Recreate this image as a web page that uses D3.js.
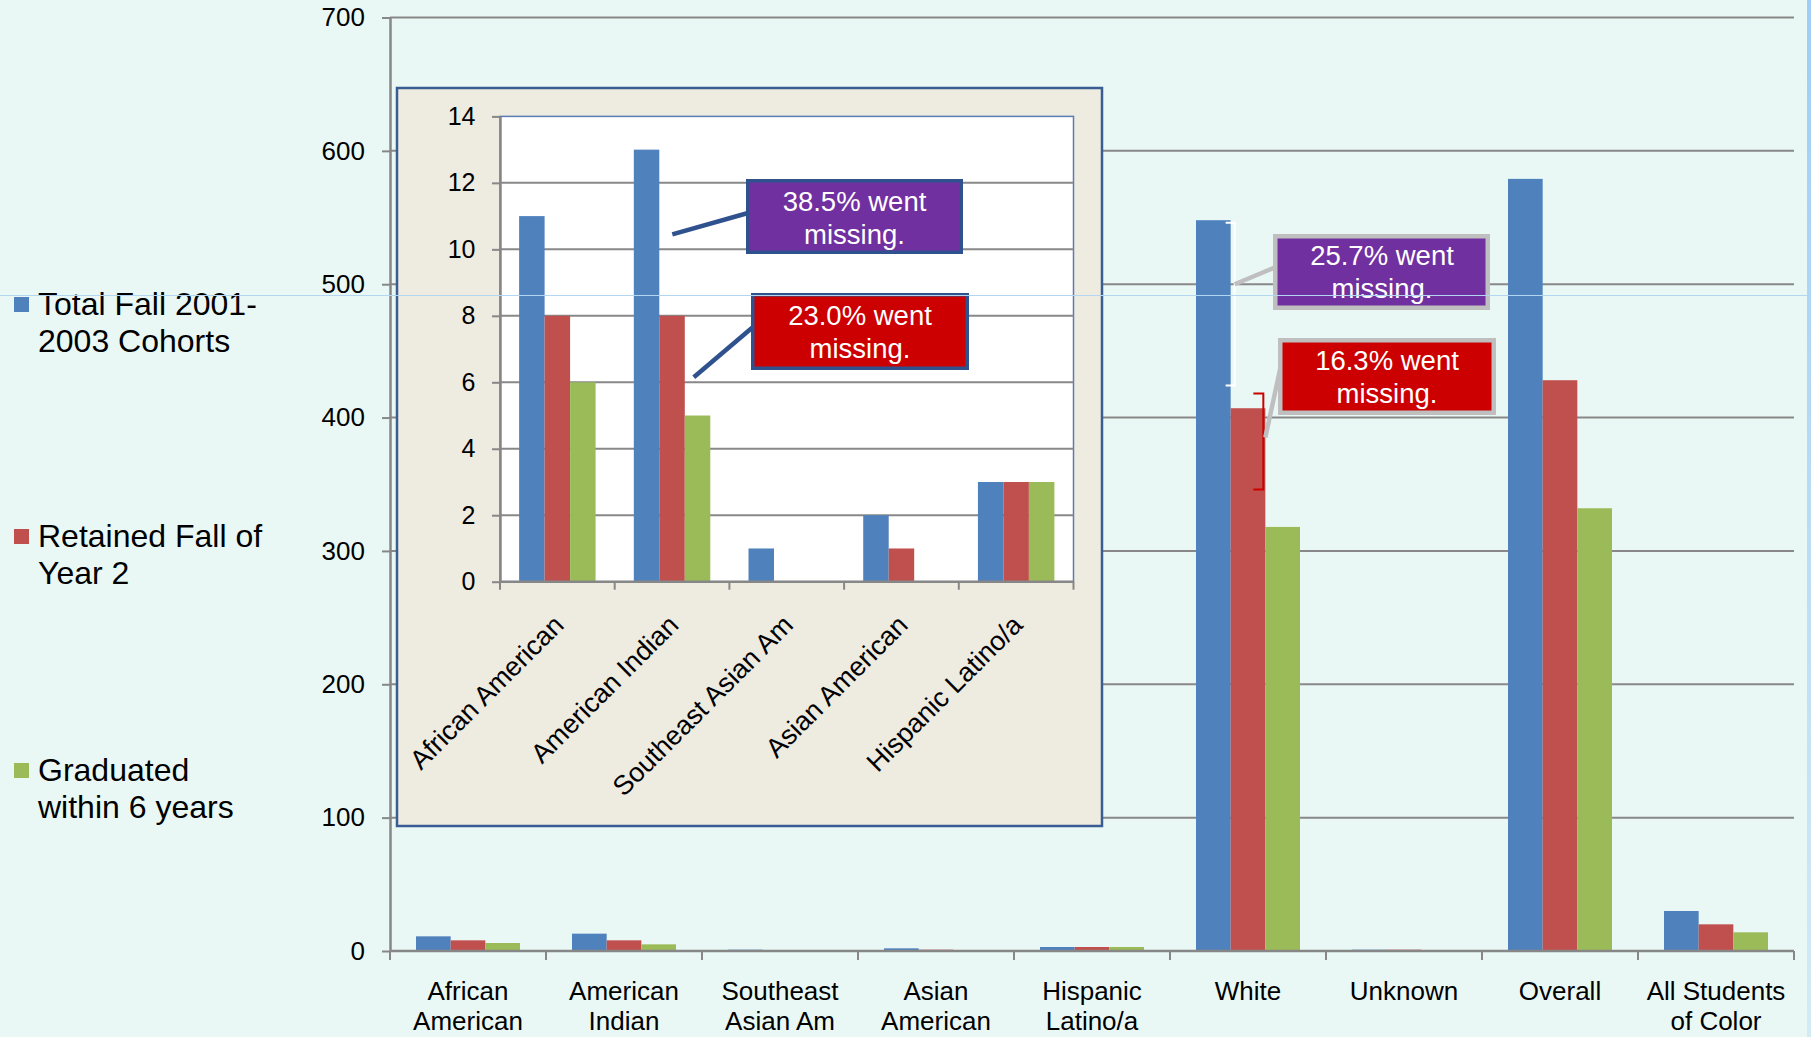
<!DOCTYPE html>
<html>
<head>
<meta charset="utf-8">
<script src="https://cdn.jsdelivr.net/npm/d3@7"></script>
<style>
	body { margin: 0; background: #eaf8f5; }
	svg text { font-family: "Liberation Sans", Arial, sans-serif; }
</style>
</head>
<body>
<svg id="vis" width="1811" height="1037"></svg>
<script>
// chart values
const categories = ["African American", "American Indian", "Southeast Asian Am", "Asian American", "Hispanic Latino/a", "White", "Unknown", "Overall", "All Students of Color"];
const categoryLines = [["African", "American"], ["American", "Indian"], ["Southeast", "Asian Am"], ["Asian", "American"], ["Hispanic", "Latino/a"], ["White"], ["Unknown"], ["Overall"], ["All Students", "of Color"]];
const seriesNames = ["Total Fall 2001-2003 Cohorts", "Retained Fall of Year 2", "Graduated within 6 years"];
const legendLines = [["Total Fall 2001-", "2003 Cohorts"], ["Retained Fall of", "Year 2"], ["Graduated", "within 6 years"]];
const totalFall = [11, 13, 1, 2, 3, 548, 1, 579, 30];
const retained = [8, 8, 0, 1, 3, 407, 1, 428, 20];
const graduated = [6, 5, 0, 0, 3, 318, 0, 332, 14];
const yTicks = [0, 100, 200, 300, 400, 500, 600, 700];

// inset zooms on the first five groups
const insetCount = 5;
const insetTicks = [0, 2, 4, 6, 8, 10, 12, 14];

// callout texts
const insetNotes = [["38.5% went", "missing."], ["23.0% went", "missing."]];
const mainNotes = [["25.7% went", "missing."], ["16.3% went", "missing."]];

const colors = ["#4f81bd", "#c0504d", "#9bbb59"];
const series = [totalFall, retained, graduated];
const gridColor = "#888888";

const svg = d3.select("svg#vis");

// ---------- main chart ----------
const x = d3.scaleBand().domain(categories).range([390, 1794]);
const y = d3.scaleLinear().domain([0, 700]).range([951, 17.5]);
const bw = x.bandwidth();

const g = {
	grid: svg.append("g"),
	bars: svg.append("g"),
	axes: svg.append("g"),
	inset: svg.append("g"),
	notes: svg.append("g"),
	legend: svg.append("g"),
	extra: svg.append("g")
};

g.grid.selectAll("line")
	.data(yTicks.slice(1))
	.enter().append("line")
	.attr("x1", 390).attr("x2", 1794)
	.attr("y1", d => y(d)).attr("y2", d => y(d))
	.attr("stroke", gridColor).attr("stroke-width", 2);

function drawBars(sel, xs, ys, count) {
	const w = xs.bandwidth();
	series.forEach(function(vals, s) {
		sel.append("g").selectAll("rect")
			.data(vals.slice(0, count).map((v, i) => ({v: v, c: xs.domain()[i]})).filter(d => d.v > 0))
			.enter().append("rect")
			.attr("x", d => xs(d.c) + w / 6 + s * w * 2 / 9)
			.attr("width", w * 2 / 9)
			.attr("y", d => ys(d.v))
			.attr("height", d => ys(0) - ys(d.v))
			.attr("fill", colors[s]);
	});
}
drawBars(g.bars, x, y, categories.length);

// y axis
const yAxis = g.axes.append("g")
	.attr("transform", "translate(390,0)")
	.call(d3.axisLeft(y).tickValues(yTicks).tickSize(8).tickSizeOuter(0).tickPadding(17));
yAxis.select(".domain").attr("stroke", "#878787").attr("stroke-width", 2.5);
yAxis.selectAll(".tick line").attr("stroke", "#878787").attr("stroke-width", 2);
yAxis.selectAll(".tick text").attr("font-size", 26).attr("fill", "#000")
	.attr("font-family", "Liberation Sans, Arial, sans-serif");

// x axis
g.axes.append("line")
	.attr("x1", 390).attr("x2", 1794).attr("y1", y(0)).attr("y2", y(0))
	.attr("stroke", "#878787").attr("stroke-width", 2.5);
g.axes.append("g").selectAll("line")
	.data(categories.map(c => x(c)).concat([x.range()[1]]))
	.enter().append("line")
	.attr("x1", d => d).attr("x2", d => d)
	.attr("y1", y(0)).attr("y2", y(0) + 9)
	.attr("stroke", "#878787").attr("stroke-width", 2);

const xl = g.axes.append("g").selectAll("text")
	.data(categories)
	.enter().append("text")
	.attr("text-anchor", "middle")
	.attr("font-size", 26)
	.attr("fill", "#000");
xl.each(function(c, i) {
	const t = d3.select(this);
	categoryLines[i].forEach(function(line, k) {
		t.append("tspan").attr("x", x(c) + bw / 2).attr("y", 1000 + k * 30).text(line);
	});
});

// ---------- inset ----------
const xi = d3.scaleBand().domain(categories.slice(0, insetCount)).range([500, 1073.5]);
const yi = d3.scaleLinear().domain([0, 14]).range([581.7, 116.4]);
const bwi = xi.bandwidth();

g.inset.append("rect")
	.attr("x", 397).attr("y", 88).attr("width", 705).attr("height", 738)
	.attr("fill", "#eeebe0").attr("stroke", "#3a5c94").attr("stroke-width", 2.5);
g.inset.append("rect")
	.attr("x", 500).attr("y", yi(14)).attr("width", 573.5).attr("height", yi(0) - yi(14))
	.attr("fill", "#ffffff").attr("stroke", "#5b7bb4").attr("stroke-width", 1.5);

g.inset.append("g").selectAll("line")
	.data(insetTicks.slice(1, -1))
	.enter().append("line")
	.attr("x1", 500).attr("x2", 1073.5)
	.attr("y1", d => yi(d)).attr("y2", d => yi(d))
	.attr("stroke", gridColor).attr("stroke-width", 2);

drawBars(g.inset.append("g"), xi, yi, insetCount);

const yiAxis = g.inset.append("g")
	.attr("transform", "translate(500,0)")
	.call(d3.axisLeft(yi).tickValues(insetTicks).tickSize(8).tickSizeOuter(0).tickPadding(16.5));
yiAxis.select(".domain").attr("stroke", "#878787").attr("stroke-width", 2.5);
yiAxis.selectAll(".tick line").attr("stroke", "#878787").attr("stroke-width", 2);
yiAxis.selectAll(".tick text").attr("font-size", 25).attr("fill", "#000")
	.attr("font-family", "Liberation Sans, Arial, sans-serif");

g.inset.append("line")
	.attr("x1", 500).attr("x2", 1073.5).attr("y1", yi(0)).attr("y2", yi(0))
	.attr("stroke", "#878787").attr("stroke-width", 2.5);
g.inset.append("g").selectAll("line")
	.data(xi.domain().map(c => xi(c)).concat([xi.range()[1]]))
	.enter().append("line")
	.attr("x1", d => d).attr("x2", d => d)
	.attr("y1", yi(0)).attr("y2", yi(0) + 8)
	.attr("stroke", "#878787").attr("stroke-width", 2);

g.inset.append("g").selectAll("text")
	.data(xi.domain())
	.enter().append("text")
	.attr("text-anchor", "end")
	.attr("font-size", 27)
	.attr("fill", "#000")
	.attr("transform", c => "translate(" + (xi(c) + bwi / 2 + 8) + "," + (yi(0) + 45) + ") rotate(-45)")
	.text(c => c);

// ---------- callouts ----------
function callout(sel, box, lines, fill, stroke, sw, cx, base, gap) {
	sel.append("rect")
		.attr("x", box[0]).attr("y", box[1]).attr("width", box[2]).attr("height", box[3])
		.attr("fill", fill).attr("stroke", stroke).attr("stroke-width", sw);
	const t = sel.append("text").attr("text-anchor", "middle").attr("font-size", 27.5).attr("fill", "#fff");
	lines.forEach(function(line, k) {
		t.append("tspan").attr("x", cx).attr("y", base + k * gap).text(line);
	});
}

// inset leaders (navy)
const aiBlueRight = xi("American Indian") + bwi / 6 + bwi * 2 / 9;
const aiRedRight = aiBlueRight + bwi * 2 / 9;
g.notes.append("line")
	.attr("x1", 748).attr("y1", 213).attr("x2", aiBlueRight + 13).attr("y2", yi(10.45))
	.attr("stroke", "#2f528f").attr("stroke-width", 4.5);
g.notes.append("line")
	.attr("x1", 753).attr("y1", 327).attr("x2", aiRedRight + 9).attr("y2", yi(6.15))
	.attr("stroke", "#2f528f").attr("stroke-width", 4.5);
callout(g.notes.append("g"), [747.75, 180.75, 213.5, 71.5], insetNotes[0], "#7030a0", "#2f528f", 3.5, 854.5, 211, 33);
callout(g.notes.append("g"), [752.75, 294.75, 214.5, 73.5], insetNotes[1], "#cc0000", "#2f528f", 3.5, 860, 325, 33);

// main brackets and leaders
const wBlueRight = x("White") + bw / 6 + bw * 2 / 9;
const wRedRight = wBlueRight + bw * 2 / 9;
const wb = wBlueRight + 4;
g.notes.append("path")
	.attr("d", "M" + (wb - 9) + "," + y(546) + "H" + wb + "V" + y(424) + "H" + (wb - 9))
	.attr("fill", "none").attr("stroke", "#ffffff").attr("stroke-width", 2);
const rb = wRedRight - 2;
g.notes.append("path")
	.attr("d", "M" + (rb - 10) + "," + y(418) + "H" + rb + "V" + y(346) + "H" + (rb - 10))
	.attr("fill", "none").attr("stroke", "#cc0000").attr("stroke-width", 2);
g.notes.append("line")
	.attr("x1", 1276).attr("y1", 267).attr("x2", wb).attr("y2", y(500))
	.attr("stroke", "#bfbfbf").attr("stroke-width", 4.5);
g.notes.append("line")
	.attr("x1", 1281).attr("y1", 365).attr("x2", rb + 2).attr("y2", y(385))
	.attr("stroke", "#bfbfbf").attr("stroke-width", 4.5);
callout(g.notes.append("g"), [1275.25, 236.25, 212.5, 71.5], mainNotes[0], "#7030a0", "#bfbfbf", 4.5, 1382, 265, 33);
callout(g.notes.append("g"), [1280.25, 340.25, 213.5, 72.5], mainNotes[1], "#cc0000", "#bfbfbf", 4.5, 1387, 370, 33);

// ---------- legend ----------
const legendY = [297, 529, 763];
seriesNames.forEach(function(name, s) {
	const lg = g.legend.append("g");
	lg.append("rect").attr("x", 14).attr("y", legendY[s]).attr("width", 15).attr("height", 15).attr("fill", colors[s]);
	const t = lg.append("text").attr("font-size", 32).attr("fill", "#000");
	legendLines[s].forEach(function(line, k) {
		t.append("tspan").attr("x", 38).attr("y", legendY[s] + 18 + k * 37).text(line);
	});
});

// faint screen-capture artefacts of the original slide
g.extra.append("line")
	.attr("x1", 0).attr("x2", 1807).attr("y1", 295.5).attr("y2", 295.5)
	.attr("stroke", "#b3d7f2").attr("stroke-width", 1);
const grad = svg.append("defs").append("linearGradient").attr("id", "edge")
	.attr("x1", 0).attr("x2", 0).attr("y1", 0).attr("y2", 1);
grad.append("stop").attr("offset", 0).attr("stop-color", "#9fcdf7");
grad.append("stop").attr("offset", 1).attr("stop-color", "#d3ebf5");
g.extra.append("rect").attr("x", 1807).attr("y", 0).attr("width", 4).attr("height", 1037).attr("fill", "url(#edge)");
</script>
</body>
</html>
